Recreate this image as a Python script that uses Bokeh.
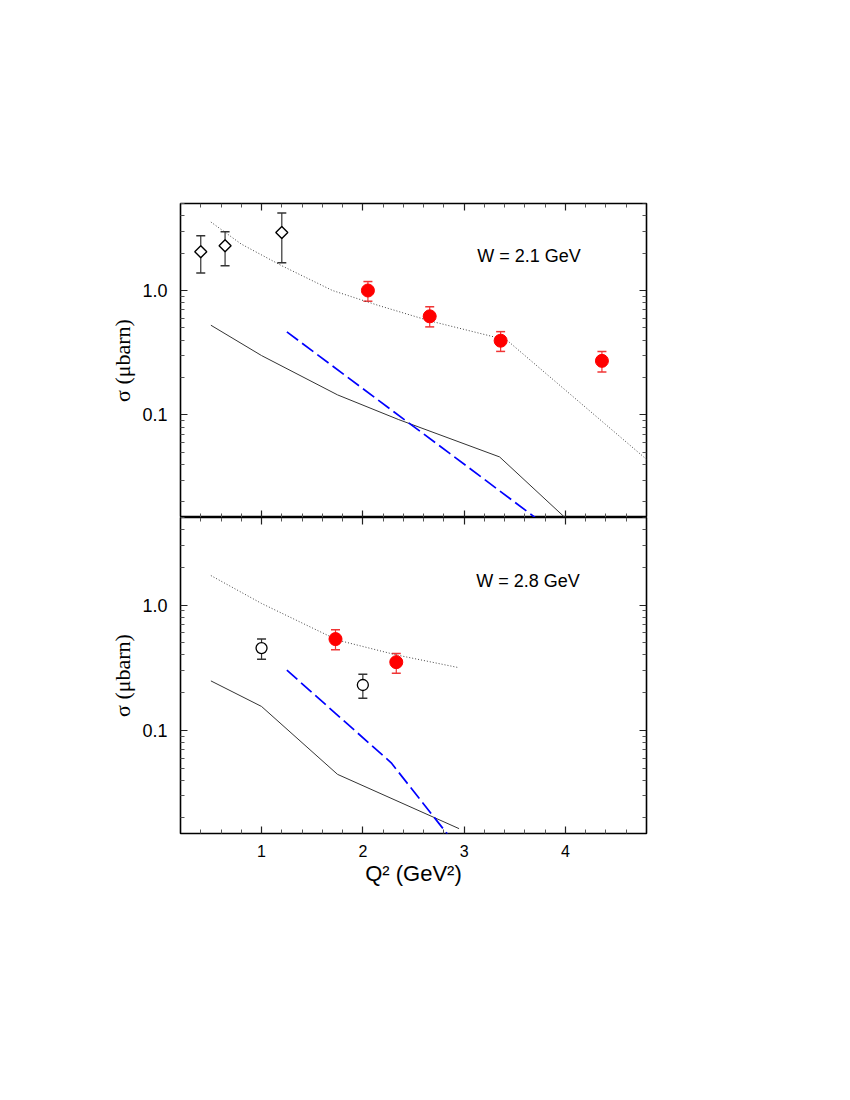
import numpy as np
from bokeh.plotting import figure
from bokeh.models import (Range1d, FixedTicker, LinearAxis, LogAxis, Whisker,
                          ColumnDataSource, Label, TeeHead, PrintfTickFormatter)
from bokeh.layouts import column
from bokeh.embed import file_html
from bokeh.resources import INLINE

# ---------------- data: W = 2.1 GeV (top panel) ----------------
q2_open_top = [0.40, 0.64, 1.20]
sig_open_top = [2.05, 2.29, 2.92]
sig_open_top_hi = [2.75, 2.96, 4.20]
sig_open_top_lo = [1.38, 1.58, 1.67]

q2_red_top = [2.05, 2.66, 3.36, 4.36]
sig_red_top = [1.00, 0.62, 0.395, 0.272]
sig_red_top_hi = [1.18, 0.74, 0.467, 0.324]
sig_red_top_lo = [0.82, 0.51, 0.324, 0.221]

q2_dot_top = [0.5, 0.8, 1.2, 1.7, 2.15, 2.66, 3.42, 4.8]
sig_dot_top = [3.55, 2.36, 1.58, 1.0, 0.76, 0.57, 0.40, 0.044]

q2_solid_top = [0.5, 1.0, 1.75, 2.35, 3.35, 4.2]
sig_solid_top = [0.526, 0.30, 0.145, 0.092, 0.046, 0.0105]

q2_dash_top = [1.25, 3.04, 3.75]
sig_dash_top = [0.465, 0.038, 0.014]

# ---------------- data: W = 2.8 GeV (bottom panel) ----------------
q2_open_bot = [1.0, 2.0]
sig_open_bot = [0.453, 0.23]
sig_open_bot_hi = [0.535, 0.28]
sig_open_bot_lo = [0.37, 0.18]

q2_red_bot = [1.73, 2.33]
sig_red_bot = [0.535, 0.35]
sig_red_bot_hi = [0.634, 0.41]
sig_red_bot_lo = [0.44, 0.285]

q2_dot_bot = [0.5, 1.0, 1.75, 2.33, 2.95]
sig_dot_bot = [1.72, 1.03, 0.525, 0.40, 0.316]

q2_solid_bot = [0.5, 1.0, 1.75, 2.95]
sig_solid_bot = [0.248, 0.155, 0.0445, 0.0164]

q2_dash_bot = [1.25, 2.28, 2.9]
sig_dash_bot = [0.302, 0.055, 0.0127]

# axis ticks
x_major = [1, 2, 3, 4]
x_minor = [0.4, 0.6, 0.8, 1.2, 1.4, 1.6, 1.8, 2.2, 2.4, 2.6, 2.8,
           3.2, 3.4, 3.6, 3.8, 4.2, 4.4, 4.6]
y_major = [0.1, 1.0]
y_minor = [0.02, 0.03, 0.04, 0.05, 0.06, 0.07, 0.08, 0.09,
           0.2, 0.3, 0.4, 0.5, 0.6, 0.7, 0.8, 0.9, 2, 3, 4, 5]

XMIN, XMAX = 0.2, 4.8
YMIN, YMAX = 0.015, 5.0
SANS = "Liberation Sans"
SERIF = "Liberation Serif"


def style_axis(ax, major_in=7, minor_in=4):
    ax.axis_line_color = None
    ax.major_tick_in = major_in
    ax.major_tick_out = 0
    ax.minor_tick_in = minor_in
    ax.minor_tick_out = 0
    ax.major_tick_line_color = "#222222"
    ax.minor_tick_line_color = "#555555"
    ax.major_tick_line_width = 1.2
    ax.minor_tick_line_width = 1


def blank_labels(ax):
    ax.major_label_text_color = None
    ax.major_label_standoff = 0


def make_panel(height, border_top, border_bottom, show_x_labels):
    p = figure(width=688, height=height,
               x_range=Range1d(XMIN, XMAX), y_range=Range1d(YMIN, YMAX),
               y_axis_type="log", x_axis_location=None, y_axis_location=None,
               output_backend="svg", toolbar_location=None,
               min_border_left=180, min_border_right=42,
               min_border_top=border_top, min_border_bottom=border_bottom)
    p.grid.visible = False
    p.outline_line_color = "black"
    p.outline_line_width = 1.6
    p.background_fill_color = "white"
    p.border_fill_color = "white"

    xt = FixedTicker(ticks=x_major, minor_ticks=x_minor)
    yt = FixedTicker(ticks=y_major, minor_ticks=y_minor)

    # left axis with labels
    la = LogAxis(ticker=yt, formatter=PrintfTickFormatter(format="%.1f"))
    style_axis(la)
    la.major_label_text_font = SANS
    la.major_label_text_font_size = "18px"
    la.major_label_text_color = "black"
    la.major_label_standoff = 13
    la.axis_label = "σ (μbarn)"
    la.axis_label_text_font = SERIF
    la.axis_label_text_font_style = "normal"
    la.axis_label_text_font_size = "22px"
    la.axis_label_text_color = "black"
    la.axis_label_standoff = 4
    p.add_layout(la, "left")

    # right axis (ticks only)
    ra = LogAxis(ticker=yt, fixed_location=XMAX)
    style_axis(ra)
    blank_labels(ra)
    p.add_layout(ra, "right")

    # top axis (ticks only)
    ta = LinearAxis(ticker=xt, fixed_location=YMAX)
    style_axis(ta)
    blank_labels(ta)
    p.add_layout(ta, "above")

    # bottom axis
    if show_x_labels:
        ba = LinearAxis(ticker=xt)
        style_axis(ba)
        ba.major_label_text_font = SANS
        ba.major_label_text_font_size = "16px"
        ba.major_label_text_color = "black"
        ba.major_label_standoff = 11
        ba.axis_label = "Q² (GeV²)"
        ba.axis_label_text_font = SANS
        ba.axis_label_text_font_style = "normal"
        ba.axis_label_text_font_size = "22px"
        ba.axis_label_text_color = "black"
        ba.axis_label_standoff = 1
    else:
        ba = LinearAxis(ticker=xt, fixed_location=YMIN)
        style_axis(ba)
        blank_labels(ba)
    p.add_layout(ba, "below")
    return p


def draw(p, q_open, s_open, s_open_hi, s_open_lo, open_marker,
         q_red, s_red, s_red_hi, s_red_lo,
         q_dot, s_dot, q_sol, s_sol, q_dash, s_dash):
    p.line(q_dot, s_dot, line_color="#444444", line_width=1, line_dash="1 2")
    p.line(q_sol, s_sol, line_color="#333333", line_width=1)
    p.line(q_dash, s_dash, line_color="#0000ff", line_width=1.7, line_dash="14 5")

    so = ColumnDataSource(dict(x=q_open, y=s_open, hi=s_open_hi, lo=s_open_lo))
    w1 = Whisker(source=so, base="x", upper="hi", lower="lo", dimension="height",
                 line_color="#333333", line_width=1.2, level="underlay",
                 upper_head=TeeHead(size=9, line_color="#333333", line_width=1.5),
                 lower_head=TeeHead(size=9, line_color="#333333", line_width=1.5))
    p.add_layout(w1)
    sr = ColumnDataSource(dict(x=q_red, y=s_red, hi=s_red_hi, lo=s_red_lo))
    w2 = Whisker(source=sr, base="x", upper="hi", lower="lo", dimension="height",
                 line_color="#f03535", line_width=1.2, level="underlay",
                 upper_head=TeeHead(size=9, line_color="#f03535", line_width=1.5),
                 lower_head=TeeHead(size=9, line_color="#f03535", line_width=1.5))
    p.add_layout(w2)

    if open_marker == "diamond":
        p.scatter("x", "y", source=so, marker="square", angle=np.pi / 4, size=8.5,
                  fill_color="white", line_color="black", line_width=1.4)
    else:
        p.scatter("x", "y", source=so, marker="circle", size=11,
                  fill_color="white", line_color="black", line_width=1.3)
    p.scatter("x", "y", source=sr, marker="circle", size=13,
              fill_color="#ff0000", line_color="#ff0000")


top = make_panel(203 + 314, 203, 0, False)
draw(top, q2_open_top, sig_open_top, sig_open_top_hi, sig_open_top_lo, "diamond",
     q2_red_top, sig_red_top, sig_red_top_hi, sig_red_top_lo,
     q2_dot_top, sig_dot_top, q2_solid_top, sig_solid_top, q2_dash_top, sig_dash_top)
top.add_layout(Label(x=3.13, y=1.9, text="W = 2.1 GeV", text_baseline="middle",
                     text_align="left", text_font=SANS, text_font_size="18px",
                     text_color="black"))

bot = make_panel(316 + 70, 0, 70, True)
draw(bot, q2_open_bot, sig_open_bot, sig_open_bot_hi, sig_open_bot_lo, "circle",
     q2_red_bot, sig_red_bot, sig_red_bot_hi, sig_red_bot_lo,
     q2_dot_bot, sig_dot_bot, q2_solid_bot, sig_solid_bot, q2_dash_bot, sig_dash_bot)
bot.add_layout(Label(x=3.12, y=1.57, text="W = 2.8 GeV", text_baseline="middle",
                     text_align="left", text_font=SANS, text_font_size="18px",
                     text_color="black"))

layout = column(top, bot, spacing=0)
open("out.html", "w").write(file_html(layout, INLINE))
